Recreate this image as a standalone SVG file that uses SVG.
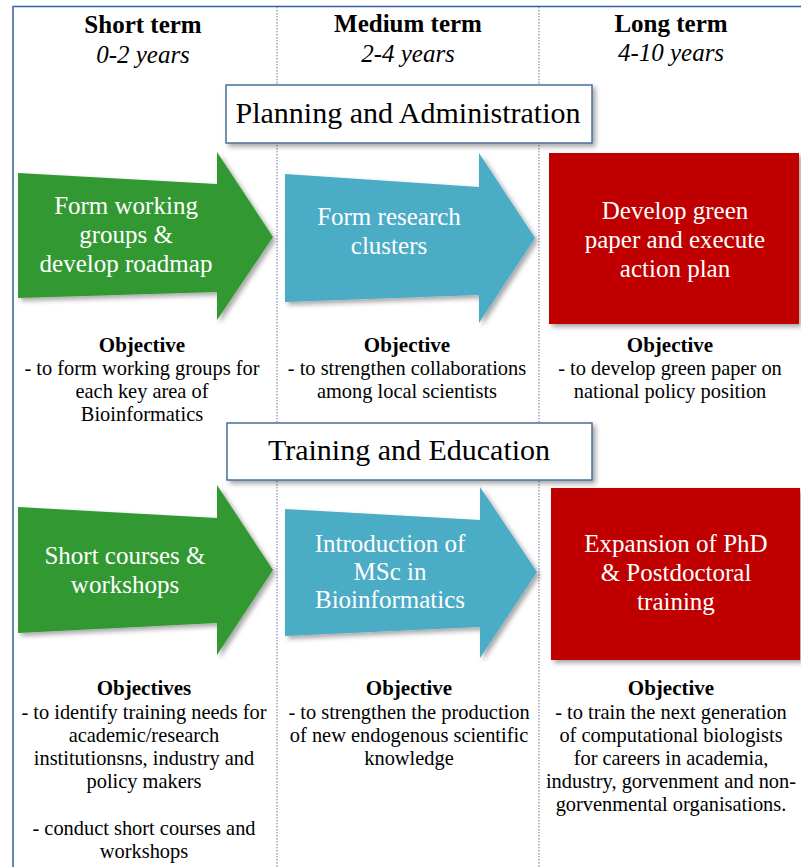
<svg xmlns="http://www.w3.org/2000/svg" width="801" height="867" viewBox="0 0 801 867">
<defs>
<filter id="sh" x="-10%" y="-10%" width="130%" height="130%">
<feDropShadow dx="3" dy="3" stdDeviation="2.5" flood-color="#000" flood-opacity="0.35"/>
</filter>
</defs>
<style>
text{font-family:"Liberation Serif","Times New Roman",serif;text-anchor:middle;fill:#000}
.hd{font-size:25px;font-weight:bold}
.yr{font-size:25px;font-style:italic}
.sec{font-size:30px}
.nt{font-size:25px;fill:#fff}
.ob{font-size:21px;font-weight:bold}
.tx{font-size:20.4px}
.frame{stroke:#2f5fa0;stroke-width:1.5;fill:none}
.div{stroke:#8a8ab8;stroke-width:1.2;stroke-dasharray:1.5 1.5;fill:none}
.box{fill:#fff;stroke:#4a6f98;stroke-width:1.5}
.green{fill:#339933}
.blue{fill:#4bacc6}
.red{fill:#c00000}
</style>
<rect width="801" height="867" fill="#fff"/>
<g id="frame">
<path class="frame" d="M13,867 V6.5 H801"/>
<line class="div" x1="277" y1="7" x2="277" y2="867"/>
<line class="div" x1="539" y1="7" x2="539" y2="867"/>
</g>
<g id="headers">
<text class="hd" x="143" y="33">Short term</text>
<text class="yr" x="143" y="63">0-2 years</text>
<text class="hd" x="408" y="32">Medium term</text>
<text class="yr" x="408" y="62">2-4 years</text>
<text class="hd" x="671" y="32">Long term</text>
<text class="yr" x="671" y="61">4-10 years</text>
</g>
<g id="planning">
<rect class="box" x="226" y="85" width="366" height="58" filter="url(#sh)"/>
<text class="sec" x="408" y="123">Planning and Administration</text>
</g>
<g id="form-working-groups">
<polygon class="green" points="18,173 217,184 217,152 273,237 217,320 217,292 18,298" filter="url(#sh)"/>
<text class="nt" x="126" y="214">Form working</text>
<text class="nt" x="126" y="243">groups &amp;</text>
<text class="nt" x="126" y="272">develop roadmap</text>
</g>
<g id="form-research-clusters">
<polygon class="blue" points="285,174 479,187 479,153 535,238 479,323 479,295 285,302" filter="url(#sh)"/>
<text class="nt" x="389" y="225">Form research</text>
<text class="nt" x="389" y="254">clusters</text>
</g>
<g id="green-paper">
<rect class="red" x="549" y="153" width="250" height="171" filter="url(#sh)"/>
<text class="nt" x="675" y="219">Develop green</text>
<text class="nt" x="675" y="248">paper and execute</text>
<text class="nt" x="675" y="277">action plan</text>
</g>
<g id="objective-1">
<text class="ob" x="142" y="352">Objective</text>
<text class="tx" x="142" y="375">- to form working groups for</text>
<text class="tx" x="142" y="398">each key area of</text>
<text class="tx" x="142" y="421">Bioinformatics</text>
</g>
<g id="objective-2">
<text class="ob" x="407" y="352">Objective</text>
<text class="tx" x="407" y="375">- to strengthen collaborations</text>
<text class="tx" x="407" y="398">among local scientists</text>
</g>
<g id="objective-3">
<text class="ob" x="670" y="352">Objective</text>
<text class="tx" x="670" y="375">- to develop green paper on</text>
<text class="tx" x="670" y="398">national policy position</text>
</g>
<g id="training">
<rect class="box" x="227" y="423" width="365" height="57" filter="url(#sh)"/>
<text class="sec" x="409" y="460">Training and Education</text>
</g>
<g id="short-courses">
<polygon class="green" points="18,507 217,518 217,485 273,570 217,655 217,623 18,633" filter="url(#sh)"/>
<text class="nt" x="125" y="564">Short courses &amp;</text>
<text class="nt" x="125" y="593">workshops</text>
</g>
<g id="msc">
<polygon class="blue" points="285,509 480,520 480,487 537,572 480,658 480,627 285,636" filter="url(#sh)"/>
<text class="nt" x="390" y="552">Introduction of</text>
<text class="nt" x="390" y="580">MSc in</text>
<text class="nt" x="390" y="608">Bioinformatics</text>
</g>
<g id="phd">
<rect class="red" x="551" y="488" width="249" height="172" filter="url(#sh)"/>
<text class="nt" x="676" y="552">Expansion of PhD</text>
<text class="nt" x="676" y="581">&amp; Postdoctoral</text>
<text class="nt" x="676" y="610">training</text>
</g>
<g id="objectives-4">
<text class="ob" x="144" y="695">Objectives</text>
<text class="tx" x="144" y="719">- to identify training needs for</text>
<text class="tx" x="144" y="742">academic/research</text>
<text class="tx" x="144" y="765">institutionsns, industry and</text>
<text class="tx" x="144" y="788">policy makers</text>
<text class="tx" x="144" y="835">- conduct short courses and</text>
<text class="tx" x="144" y="858">workshops</text>
</g>
<g id="objective-5">
<text class="ob" x="409" y="695">Objective</text>
<text class="tx" x="409" y="719">- to strengthen the production</text>
<text class="tx" x="409" y="742">of new endogenous scientific</text>
<text class="tx" x="409" y="765">knowledge</text>
</g>
<g id="objective-6">
<text class="ob" x="671" y="695">Objective</text>
<text class="tx" x="671" y="719">- to train the next generation</text>
<text class="tx" x="671" y="742">of computational biologists</text>
<text class="tx" x="671" y="765">for careers in academia,</text>
<text class="tx" x="671" y="788">industry, gorvenment and non-</text>
<text class="tx" x="671" y="811">gorvenmental organisations.</text>
</g>
<g id="connectors"/>
</svg>
